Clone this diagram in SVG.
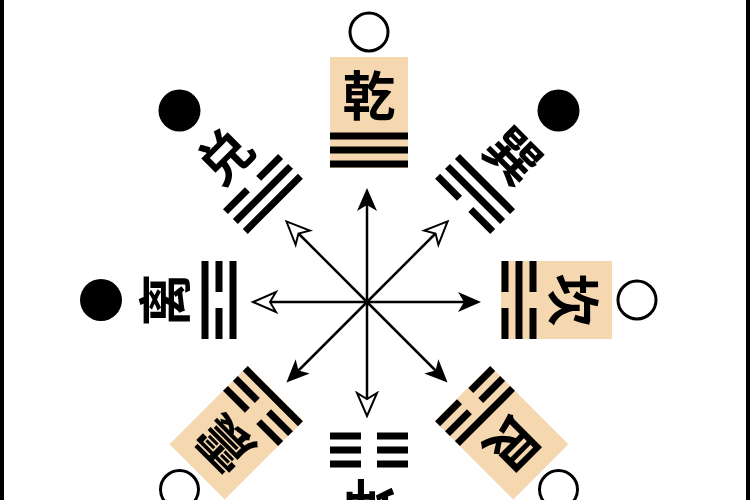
<svg xmlns="http://www.w3.org/2000/svg" width="750" height="500" viewBox="0 0 750 500">
<style>
.bg{fill:#F6D8B0}
.ln{fill:#000}
.tx{font-family:"Noto Sans CJK SC","Noto Sans CJK TC",sans-serif;font-size:53px;font-weight:700;fill:#000;text-anchor:middle}
.co{fill:#fff;stroke:#000;stroke-width:3}
.cf{fill:#000}
.ar{stroke:#000;stroke-width:2.5;fill:none}
</style>
<defs>
<marker id="af" markerUnits="userSpaceOnUse" markerWidth="30" markerHeight="30" viewBox="-15 -15 30 30" refX="0" refY="0" orient="auto">
<path d="M10,0 L-13,-10 L-7,0 L-13,10 Z" fill="#000"/>
</marker>
<marker id="ao" markerUnits="userSpaceOnUse" markerWidth="30" markerHeight="30" viewBox="-15 -15 30 30" refX="0" refY="0" orient="auto">
<path d="M10,0 L-13,-10 L-7,0 L-13,10 Z" fill="#fff" stroke="#000" stroke-width="2" stroke-linejoin="miter"/>
</marker>
<g id="S1"><rect class="ln" x="330" y="160.5" width="78" height="7"/></g>
<g id="B1"><rect class="ln" x="330" y="160.5" width="31" height="7"/><rect class="ln" x="377" y="160.5" width="31" height="7"/></g>
<g id="S2"><rect class="ln" x="330" y="146.5" width="78" height="7"/></g>
<g id="B2"><rect class="ln" x="330" y="146.5" width="31" height="7"/><rect class="ln" x="377" y="146.5" width="31" height="7"/></g>
<g id="S3"><rect class="ln" x="330" y="132.5" width="78" height="7"/></g>
<g id="B3"><rect class="ln" x="330" y="132.5" width="31" height="7"/><rect class="ln" x="377" y="132.5" width="31" height="7"/></g>
</defs>
<rect x="0" y="0" width="750" height="500" fill="#fff"/>
<rect x="0" y="0" width="4" height="500" fill="#000"/>
<rect x="746" y="0" width="4" height="500" fill="#000"/>

<g id="qian" transform="rotate(0 369 300)">
<rect class="bg" x="330" y="57" width="78" height="111"/>
<text class="tx" x="369" y="116">乾</text>
<use href="#S1"/><use href="#S2"/><use href="#S3"/>
<circle class="co" cx="369" cy="32" r="19"/>
</g>
<g id="xun" transform="rotate(45 369 300)">
<text class="tx" x="369" y="116">巽</text>
<use href="#B1"/><use href="#S2"/><use href="#S3"/>
<circle class="cf" cx="369" cy="32" r="21"/>
</g>
<g id="kan" transform="rotate(90 369 300)">
<rect class="bg" x="330" y="57" width="78" height="111"/>
<text class="tx" x="369" y="116">坎</text>
<use href="#B1"/><use href="#S2"/><use href="#B3"/>
<circle class="co" cx="369" cy="32" r="19"/>
</g>
<g id="gen" transform="rotate(135 369 300)">
<rect class="bg" x="330" y="57" width="78" height="111"/>
<text class="tx" x="369" y="116">艮</text>
<use href="#B1"/><use href="#B2"/><use href="#S3"/>
<circle class="co" cx="369" cy="32" r="19"/>
</g>
<g id="kun" transform="rotate(180 369 300)">
<text class="tx" x="369" y="116">坤</text>
<use href="#B1"/><use href="#B2"/><use href="#B3"/>
</g>
<g id="zhen" transform="rotate(225 369 300)">
<rect class="bg" x="330" y="57" width="78" height="111"/>
<text class="tx" x="369" y="116">震</text>
<use href="#S1"/><use href="#B2"/><use href="#B3"/>
<circle class="co" cx="369" cy="32" r="19"/>
</g>
<g id="li" transform="rotate(270 369 300)">
<text class="tx" x="369" y="116">离</text>
<use href="#S1"/><use href="#B2"/><use href="#S3"/>
<circle class="cf" cx="369" cy="32" r="21"/>
</g>
<g id="dui" transform="rotate(315 369 300)">
<text class="tx" x="369" y="116">兑</text>
<use href="#S1"/><use href="#S2"/><use href="#B3"/>
<circle class="cf" cx="369" cy="32" r="21"/>
</g>

<g id="connectors" class="ar">
<line x1="367" y1="302" x2="367" y2="198" marker-end="url(#af)"/>
<line x1="367" y1="302" x2="471" y2="302" marker-end="url(#af)"/>
<line x1="367" y1="302" x2="367" y2="406" marker-end="url(#ao)"/>
<line x1="367" y1="302" x2="263" y2="302" marker-end="url(#ao)"/>
<line x1="367" y1="302" x2="440.5" y2="228.5" marker-end="url(#ao)"/>
<line x1="367" y1="302" x2="293.5" y2="228.5" marker-end="url(#ao)"/>
<line x1="367" y1="302" x2="440.5" y2="375.5" marker-end="url(#af)"/>
<line x1="367" y1="302" x2="293.5" y2="375.5" marker-end="url(#af)"/>
</g>
</svg>
